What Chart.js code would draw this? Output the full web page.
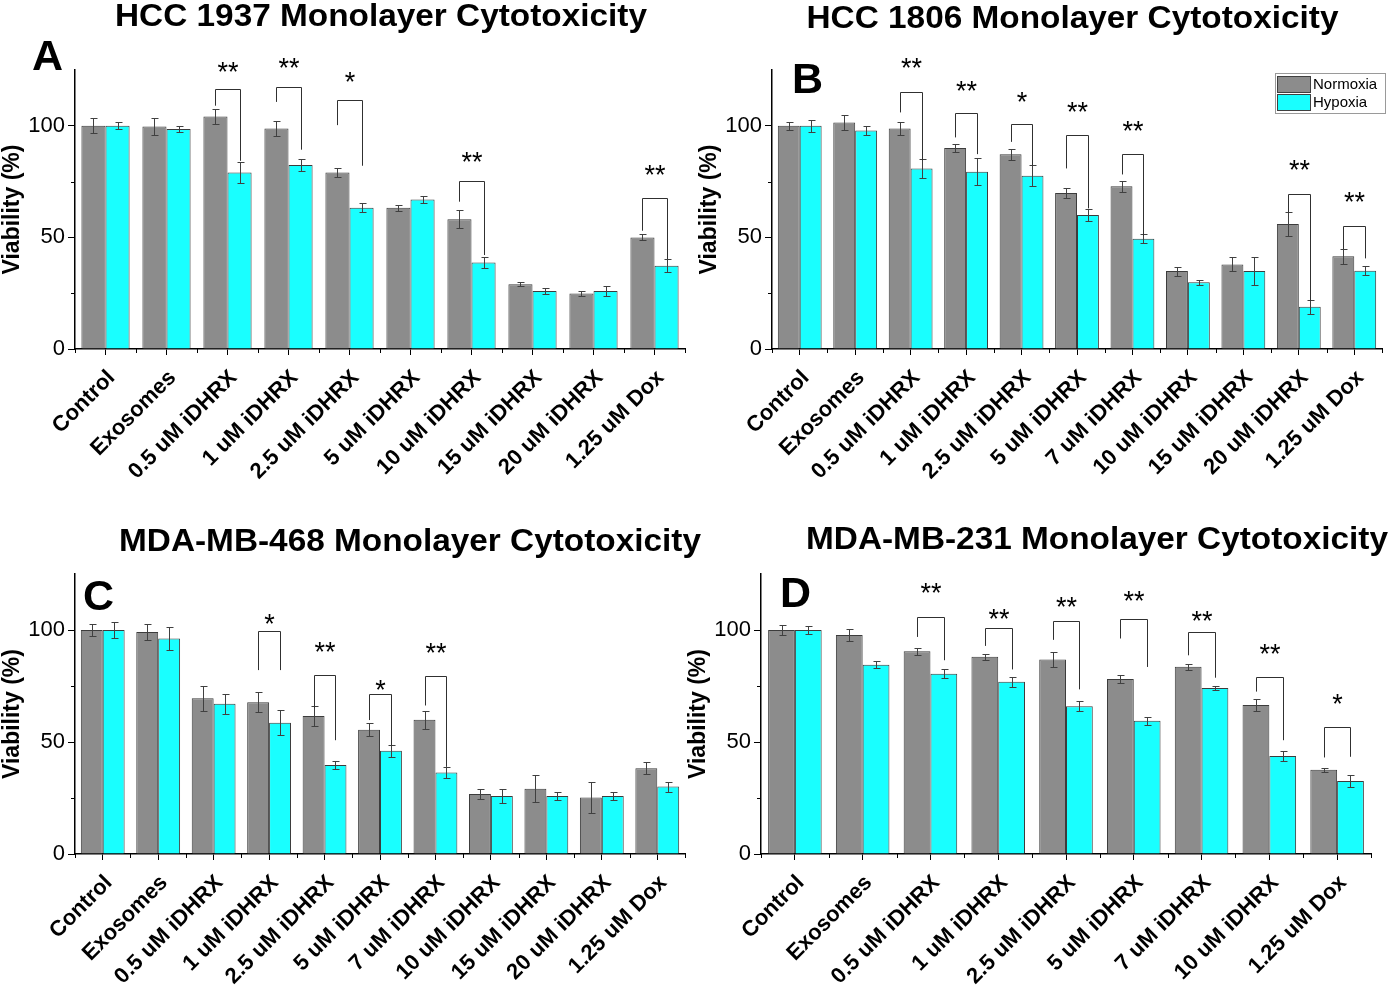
<!DOCTYPE html>
<html>
<head>
<meta charset="utf-8">
<script src="https://cdn.jsdelivr.net/npm/chart.js@4.4.1/dist/chart.umd.min.js"></script>
<style>
  body { margin: 0; background: #fff; width: 1390px; height: 993px; position: relative; overflow: hidden; }
  canvas { position: absolute; }
</style>
</head>
<body>
<canvas id="chartA" width="710" height="490" style="left:0px;top:0px"></canvas>
<canvas id="chartB" width="693" height="490" style="left:697px;top:0px"></canvas>
<canvas id="chartC" width="710" height="493" style="left:0px;top:500px"></canvas>
<canvas id="chartD" width="704" height="493" style="left:686px;top:500px"></canvas>
<script>
// ---- data ----
const catsA = ['Control', 'Exosomes', '0.5 uM iDHRX', '1 uM iDHRX', '2.5 uM iDHRX', '5 uM iDHRX', '10 uM iDHRX', '15 uM iDHRX', '20 uM iDHRX', '1.25 uM Dox']
const normoxiaA = [100, 99.7, 104.2, 98.8, 79.1, 63.3, 58.1, 29.0, 24.9, 50.0]
const normoxiaErrA = [3.3, 3.7, 3.4, 3.3, 2.2, 1.3, 4.0, 0.9, 1.0, 1.3]
const hypoxiaA = [100, 98.6, 79.1, 82.4, 63.3, 67.0, 38.8, 26.0, 26.0, 37.3]
const hypoxiaErrA = [1.5, 1.3, 4.7, 2.8, 2.0, 1.5, 2.5, 1.2, 2.1, 2.9]
const sigIdxA = [2, 3, 4, 6, 9]
const sigMarkA = ['**', '**', '*', '**', '**']
const sigTopA = [116.7, 117.6, 111.4, 75.2, 67.8]
const sigLeftA = [109, 110.7, 100.3, 66, 53]
const sigRightA = [84.3, 89.3, 82.1, 42.1, 40.3]
const sigStarA = [126.9, 128.7, 122.4, 86.6, 80.6]

const catsB = ['Control', 'Exosomes', '0.5 uM iDHRX', '1 uM iDHRX', '2.5 uM iDHRX', '5 uM iDHRX', '7 uM iDHRX', '10 uM iDHRX', '15 uM iDHRX', '20 uM iDHRX', '1.25 uM Dox']
const normoxiaB = [100, 101.5, 98.8, 90.0, 87.2, 69.9, 72.9, 34.9, 37.9, 56.0, 41.5]
const normoxiaErrB = [1.9, 3.5, 3.0, 1.9, 2.5, 2.4, 2.5, 2.0, 3.1, 5.2, 3.4]
const hypoxiaB = [100, 97.9, 80.9, 79.4, 77.6, 60.0, 49.4, 29.9, 34.9, 18.9, 35.1]
const hypoxiaErrB = [2.8, 2.2, 4.1, 6.1, 4.7, 2.8, 1.9, 1.2, 6.1, 3.1, 1.9]
const sigIdxB = [2, 3, 4, 5, 6, 9, 10]
const sigMarkB = ['**', '**', '*', '**', '**', '**', '**']
const sigTopB = [115.2, 105.7, 100.6, 95.7, 87.5, 69.6, 55.2]
const sigLeftB = [106, 94.8, 92.8, 80.9, 78.2, 61.2, 44.8]
const sigRightB = [84.5, 87.3, 82.1, 63.0, 50.7, 21.5, 40.6]
const sigStarB = [128.7, 118.2, 113.4, 108.7, 100.3, 82.8, 68.7]

const catsC = ['Control', 'Exosomes', '0.5 uM iDHRX', '1 uM iDHRX', '2.5 uM iDHRX', '5 uM iDHRX', '7 uM iDHRX', '10 uM iDHRX', '15 uM iDHRX', '20 uM iDHRX', '1.25 uM Dox']
const normoxiaC = [100, 99.1, 69.5, 67.8, 61.6, 55.5, 59.9, 26.8, 29.1, 25.2, 38.3]
const normoxiaErrC = [2.7, 3.7, 5.7, 4.6, 4.5, 2.8, 4.0, 2.2, 6.0, 6.9, 2.8]
const hypoxiaC = [100, 96.2, 67.1, 58.6, 39.7, 46.1, 36.4, 25.9, 25.9, 25.9, 30.1]
const hypoxiaErrC = [3.7, 5.3, 4.5, 5.6, 1.9, 2.6, 2.5, 3.1, 2.0, 2.0, 2.2]
const sigIdxC = [3, 4, 5, 6]
const sigMarkC = ['*', '**', '*', '**']
const sigTopC = [99.7, 80.1, 71.4, 79.6]
const sigLeftC = [82.1, 65, 59.8, 66.3]
const sigRightC = [82.1, 50.8, 48.4, 38.9]
const sigStarC = [105.2, 92.8, 75.7, 92.6]

const catsD = ['Control', 'Exosomes', '0.5 uM iDHRX', '1 uM iDHRX', '2.5 uM iDHRX', '5 uM iDHRX', '7 uM iDHRX', '10 uM iDHRX', '1.25 uM Dox']
const normoxiaD = [100, 97.8, 90.5, 88.1, 86.8, 78.1, 83.6, 66.5, 37.6]
const normoxiaErrD = [2.4, 2.7, 1.6, 1.3, 3.4, 1.6, 1.4, 2.5, 1.0]
const hypoxiaD = [100, 84.5, 80.5, 76.9, 66.0, 59.5, 74.1, 43.8, 32.6]
const hypoxiaErrD = [2.0, 1.5, 2.1, 2.2, 2.3, 1.7, 1.0, 2.1, 2.6]
const sigIdxD = [2, 3, 4, 5, 6, 7, 8]
const sigMarkD = ['**', '**', '**', '**', '**', '**', '*']
const sigTopD = [105.8, 100.8, 104.2, 104.8, 99.1, 78.9, 56.9]
const sigLeftD = [96.9, 92.9, 95.6, 96.2, 88.7, 72.5, 43.1]
const sigRightD = [86.5, 82.4, 73.5, 83.5, 78.7, 50.8, 43.4]
const sigStarD = [119, 107.8, 113, 115.5, 106.6, 92.1, 69.8]

const yTicks = [0, 50, 100]
const yMinorTicks = [25, 75]

const FONT = 'Liberation Sans, Arial, Helvetica, sans-serif'
const GREY = '#8c8c8c'
const CYAN = '#19ffff'

// draws error bars, significance brackets, minor ticks, panel title/letter and legend
const extras = {
  id: 'extras',
  afterDatasetsDraw(chart, args, opts) {
    const ctx = chart.ctx
    const y = chart.scales.y
    ctx.save()
    ctx.lineWidth = 1
    ctx.strokeStyle = '#404040'
    opts.errors.forEach((errs, di) => {
      const meta = chart.getDatasetMeta(di)
      const vals = chart.data.datasets[di].data
      meta.data.forEach((bar, j) => {
        const bx = Math.round(bar.x) + 0.5
        const top = Math.round(y.getPixelForValue(vals[j] + errs[j])) + 0.5
        const bot = Math.round(y.getPixelForValue(vals[j] - errs[j])) + 0.5
        ctx.beginPath()
        ctx.moveTo(bx, top); ctx.lineTo(bx, bot)
        ctx.moveTo(bx - 3, top); ctx.lineTo(bx + 4, top)
        ctx.moveTo(bx - 3, bot); ctx.lineTo(bx + 4, bot)
        ctx.stroke()
      })
    })

    // significance brackets
    const s = opts.sig
    const m0 = chart.getDatasetMeta(0)
    const m1 = chart.getDatasetMeta(1)
    ctx.strokeStyle = '#303030'
    ctx.fillStyle = '#000'
    ctx.font = '27px ' + FONT
    ctx.textAlign = 'center'
    ctx.textBaseline = 'alphabetic'
    s.idx.forEach((j, k) => {
      const x0 = Math.round(m0.data[j].x) + 0.5
      const x1 = Math.round(m1.data[j].x) + 0.5
      const yt = Math.round(y.getPixelForValue(s.top[k])) + 0.5
      ctx.beginPath()
      ctx.moveTo(x0, y.getPixelForValue(s.left[k]))
      ctx.lineTo(x0, yt)
      ctx.lineTo(x1, yt)
      ctx.lineTo(x1, y.getPixelForValue(s.right[k]))
      ctx.stroke()
      ctx.fillText(s.mark[k], (x0 + x1) / 2, y.getPixelForValue(s.star[k]) + 15)
    })
    ctx.restore()
  },
  afterDraw(chart, args, opts) {
    const ctx = chart.ctx
    const x = chart.scales.x
    const y = chart.scales.y
    const area = chart.chartArea
    ctx.save()
    ctx.strokeStyle = '#000'
    ctx.lineWidth = 1
    // minor ticks on x (category boundaries)
    const n = chart.data.labels.length
    const step = (x.getPixelForValue(n - 1) - x.getPixelForValue(0)) / (n - 1)
    ctx.beginPath()
    for (let i = 0; i <= n; i++) {
      const px = Math.round(x.getPixelForValue(0) - step / 2 + i * step) + 0.5
      ctx.moveTo(px, area.bottom); ctx.lineTo(px, area.bottom + 4)
    }
    // minor ticks on y
    yMinorTicks.forEach(v => {
      const py = Math.round(y.getPixelForValue(v)) + 0.5
      ctx.moveTo(area.left - 4, py); ctx.lineTo(area.left, py)
    })
    ctx.stroke()

    // panel title
    ctx.fillStyle = '#000'
    ctx.textAlign = 'center'
    ctx.textBaseline = 'alphabetic'
    ctx.font = 'bold 31px ' + FONT
    ctx.save()
    ctx.translate(opts.titleX, opts.titleY)
    ctx.scale(1.076, 1)
    ctx.fillText(opts.title, 0, 0)
    ctx.restore()

    // panel letter
    ctx.textAlign = 'left'
    ctx.font = 'bold 43px ' + FONT
    ctx.fillText(opts.letter, area.left + opts.letterDx, area.top + opts.letterDy)

    // legend box
    if (opts.legend) {
      const L = opts.legend
      ctx.strokeStyle = '#9a9a9a'
      ctx.strokeRect(L.x + 0.5, L.y + 0.5, L.w, L.h)
      ctx.font = '15px ' + FONT
      ctx.textBaseline = 'middle'
      chart.data.datasets.forEach((ds, i) => {
        const ry = L.y + 3 + i * 18
        ctx.fillStyle = ds.backgroundColor
        ctx.fillRect(L.x + 2, ry, 33, 16)
        ctx.strokeStyle = '#404040'
        ctx.strokeRect(L.x + 2.5, ry + 0.5, 33, 16)
        ctx.fillStyle = '#000'
        ctx.fillText(ds.label, L.x + 38, ry + 9)
      })
    }
    ctx.restore()
  }
}

function makeChart(id, p) {
  new Chart(document.getElementById(id), {
    type: 'bar',
    data: {
      labels: p.cats,
      datasets: [
        { label: 'Normoxia', data: p.norm, backgroundColor: GREY, borderColor: '#3c3c3c', borderWidth: 1 },
        { label: 'Hypoxia', data: p.hyp, backgroundColor: CYAN, borderColor: '#3c3c3c', borderWidth: 1 },
      ],
    },
    options: {
      responsive: false,
      animation: false,
      layout: { padding: { top: p.padTop, right: p.padRight, left: 0, bottom: 0 } },
      datasets: { bar: { barPercentage: 1, categoryPercentage: 0.79 } },
      scales: {
        x: {
          grid: { display: true, drawOnChartArea: false, offset: false, tickLength: 6, color: '#000', tickWidth: 1 },
          border: { display: true, color: '#000', width: 1.5 },
          ticks: {
            autoSkip: false, maxRotation: 45, minRotation: 45, padding: 10, labelOffset: 6,
            color: '#000', font: { family: FONT, size: 22, weight: 'bold' },
          },
          afterFit(scale) { scale.height = p.xHeight },
        },
        y: {
          min: 0, max: 125,
          grid: { display: true, drawOnChartArea: false, tickLength: 7, color: '#000' },
          border: { display: true, color: '#000', width: 1.5 },
          ticks: {
            stepSize: 50, includeBounds: false, padding: 3, color: '#000',
            font: { family: FONT, size: 22 },
          },
          title: {
            display: true, text: 'Viability (%)', color: '#000', padding: { top: 1 },
            font: { family: FONT, size: 23, weight: 'bold', lineHeight: 1 },
          },
          afterFit(scale) { scale.width = 75 },
        },
      },
      plugins: {
        legend: { display: false },
        tooltip: { enabled: false },
        extras: {
          errors: [p.normErr, p.hypErr],
          sig: p.sig,
          title: p.title, titleX: p.titleX, titleY: p.titleY,
          letter: p.letter, letterDx: p.letterDx, letterDy: p.letterDy,
          legend: p.legend || null,
        },
      },
    },
    plugins: [extras],
  })
}

makeChart('chartA', {
  cats: catsA, norm: normoxiaA, normErr: normoxiaErrA, hyp: hypoxiaA, hypErr: hypoxiaErrA,
  sig: { idx: sigIdxA, mark: sigMarkA, top: sigTopA, left: sigLeftA, right: sigRightA, star: sigStarA },
  title: 'HCC 1937 Monolayer Cytotoxicity', titleX: 381, titleY: 26,
  letter: 'A', letterDx: -43, letterDy: 0,
  padTop: 70, padRight: 25, xHeight: 141,
})
makeChart('chartB', {
  cats: catsB, norm: normoxiaB, normErr: normoxiaErrB, hyp: hypoxiaB, hypErr: hypoxiaErrB,
  sig: { idx: sigIdxB, mark: sigMarkB, top: sigTopB, left: sigLeftB, right: sigRightB, star: sigStarB },
  title: 'HCC 1806 Monolayer Cytotoxicity', titleX: 375.5, titleY: 28,
  letter: 'B', letterDx: 20, letterDy: 23,
  legend: { x: 578, y: 73, w: 110, h: 40 },
  padTop: 70, padRight: 8, xHeight: 141,
})
makeChart('chartC', {
  cats: catsC, norm: normoxiaC, normErr: normoxiaErrC, hyp: hypoxiaC, hypErr: hypoxiaErrC,
  sig: { idx: sigIdxC, mark: sigMarkC, top: sigTopC, left: sigLeftC, right: sigRightC, star: sigStarC },
  title: 'MDA-MB-468 Monolayer Cytotoxicity', titleX: 410, titleY: 51,
  letter: 'C', letterDx: 8, letterDy: 36,
  padTop: 74, padRight: 25, xHeight: 139,
})
makeChart('chartD', {
  cats: catsD, norm: normoxiaD, normErr: normoxiaErrD, hyp: hypoxiaD, hypErr: hypoxiaErrD,
  sig: { idx: sigIdxD, mark: sigMarkD, top: sigTopD, left: sigLeftD, right: sigRightD, star: sigStarD },
  title: 'MDA-MB-231 Monolayer Cytotoxicity', titleX: 411, titleY: 49,
  letter: 'D', letterDx: 19, letterDy: 33,
  padTop: 74, padRight: 19, xHeight: 139,
})
</script>
</body>
</html>
